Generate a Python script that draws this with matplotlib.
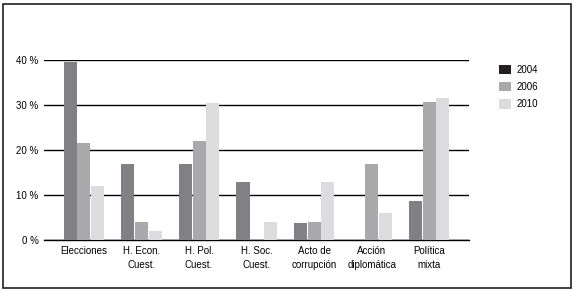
import numpy as np
import matplotlib.pyplot as plt
from matplotlib.patches import Patch, Rectangle

plt.rcParams['font.family'] = ['Liberation Sans Narrow', 'Liberation Sans', 'DejaVu Sans']

categories = ['Elecciones', 'H. Econ.\nCuest.', 'H. Pol.\nCuest.', 'H. Soc.\nCuest.',
              'Acto de\ncorrupción', 'Acción\ndiplomática', 'Política\nmixta']
years = ['2004', '2006', '2010']
v2004 = [39.5, 16.8, 16.8, 12.8, 3.7, 0, 8.7]
v2006 = [21.6, 3.9, 21.9, 0, 3.9, 16.8, 30.7]
v2010 = [11.9, 1.9, 30.5, 3.9, 13.0, 5.9, 31.6]

bar_colors = ['#818185', '#a9a9ac', '#dcdcde']
legend_colors = ['#231f20', '#a9a9ac', '#dcdcde']

fig = plt.figure(figsize=(5.74, 2.91), dpi=100)
ax = fig.add_axes([44 / 574, 1 - 240 / 291, 425 / 574, 180 / 291])

x = np.arange(len(categories))
w = 0.226
for i, vals in enumerate([v2004, v2006, v2010]):
    ax.bar(x + (i - 1) * 0.236, vals, width=w, color=bar_colors[i], zorder=3)

ax.set_ylim(0, 40)
ax.set_xlim(-0.693, 6.69)
ax.set_yticks([0, 10, 20, 30, 40])
ax.set_yticklabels(['0 %', '10 %', '20 %', '30 %', '40 %'], fontsize=7)
ax.set_xticks(x)
ax.set_xticklabels(categories, fontsize=7, linespacing=1.5)
ax.tick_params(length=0, pad=4)
ax.yaxis.grid(True, color='black', linewidth=1, zorder=0)
for s in ['left', 'right', 'top']:
    ax.spines[s].set_visible(False)
ax.spines['bottom'].set_linewidth(1)

handles = [Patch(facecolor=c, edgecolor='none') for c in legend_colors]
fig.legend(handles, years, loc='upper left', bbox_to_anchor=(490 / 574, 1 - 56 / 291),
           frameon=False, fontsize=7, handlelength=1.3, handleheight=1.1,
           labelspacing=0.75, handletextpad=0.5)

fig.patches.append(Rectangle((3 / 574, 3 / 291), 568 / 574, 284 / 291, transform=fig.transFigure,
                             fill=False, edgecolor='#231f20', linewidth=1.2))

fig.savefig('out.png', dpi=100)
